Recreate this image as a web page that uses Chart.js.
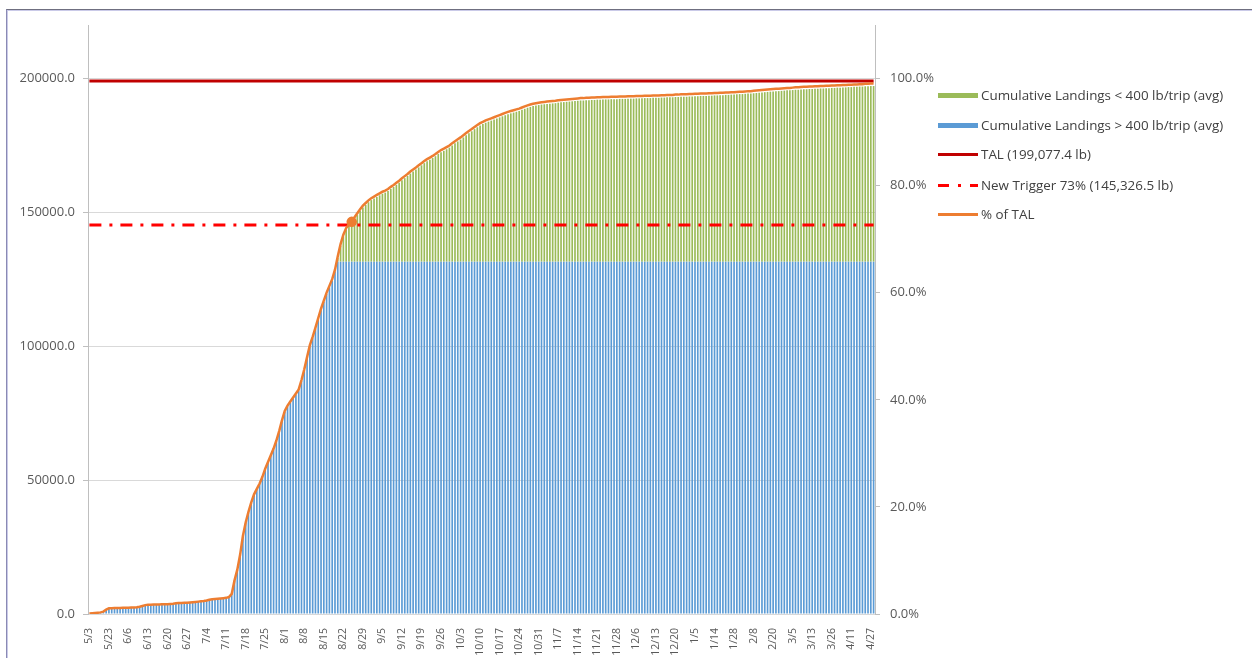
<!DOCTYPE html>
<html>
<head>
<meta charset="utf-8">
<title>Cumulative Landings vs TAL</title>
<script src="https://cdn.jsdelivr.net/npm/chart.js@4"></script>
<style>
  body { margin: 0; background: #fff; }
  #wrap { position: relative; width: 1252px; height: 658px; overflow: hidden; background: #fff; }
  #frame {
    position: absolute; left: 6px; top: 9px; width: 1260px; height: 700px;
    border-top: 1px solid #6f6f80; border-left: 1px solid #8a8ab4;
    box-shadow: inset 1px 1px 0 #cacae8; pointer-events: none;
  }
  #chart { position: absolute; left: 0; top: 0; }
  .legend { position: absolute; left: 938px; top: 0; font-family: "Open Sans", sans-serif; font-size: 13.4px; color: #404040; }
  .item { position: absolute; left: 0; height: 18px; white-space: nowrap; }
  .item .txt { position: absolute; left: 43px; top: 0; line-height: 18px; }
  .sw { position: absolute; left: 0; width: 40px; }
</style>
</head>
<body>
<div id="wrap">
  <canvas id="chart" width="1252" height="658"></canvas>
  <div id="frame"></div>
  <div class="legend">
    <div class="item" style="top:86px"><span class="sw" style="top:7px;height:5px;background:#9bbb59"></span><span class="txt">Cumulative Landings &lt; 400 lb/trip (avg)</span></div>
    <div class="item" style="top:116px"><span class="sw" style="top:7px;height:5px;background:#5b9bd5"></span><span class="txt">Cumulative Landings &gt; 400 lb/trip (avg)</span></div>
    <div class="item" style="top:145px"><span class="sw" style="top:8px;height:3px;background:#c00000"></span><span class="txt">TAL (199,077.4 lb)</span></div>
    <div class="item" style="top:176px">
      <span class="sw" style="top:8px;height:3px;width:11px;background:#ff0000"></span>
      <span class="sw" style="top:8px;height:3px;width:3px;left:20px;background:#ff0000"></span>
      <span class="sw" style="top:8px;height:3px;width:8px;left:32px;background:#ff0000"></span>
      <span class="txt">New Trigger 73% (145,326.5 lb)</span>
    </div>
    <div class="item" style="top:205px"><span class="sw" style="top:8px;height:3px;background:#ed7d31"></span><span class="txt">% of TAL</span></div>
  </div>
</div>

<script>
// ─────────────────────────────────────────────
// DATA (lb, one bar per landing date, 7 bars per row)
// ─────────────────────────────────────────────
const TAL = 199077.4;
const TRIGGER = 145326.5;

// date shown under the first bar of every row of 7
const tickLabels = [
  '5/3', '5/23', '6/6', '6/13', '6/20', '6/27', '7/4', '7/11', '7/18', '7/25',
  '8/1', '8/8', '8/15', '8/22', '8/29', '9/5', '9/12', '9/19', '9/26', '10/3',
  '10/10', '10/17', '10/24', '10/31', '11/7', '11/14', '11/21', '11/28', '12/6', '12/13',
  '12/20', '1/5', '1/14', '1/28', '2/8', '2/20', '3/5', '3/13', '3/26', '4/11', '4/27'
];

const leftTicks = [0, 50000, 100000, 150000, 200000];
const rightTicks = [0, 20, 40, 60, 80, 100];

// cumulative landings from trips averaging > 400 lb
const over400 = [
  200, 300, 400, 500, 600, 900, 1600,                          // 5/3
  2100, 2100, 2200, 2200, 2200, 2300, 2300,                    // 5/23
  2300, 2400, 2400, 2500, 2700, 3000, 3300,                    // 6/6
  3400, 3400, 3500, 3500, 3500, 3600, 3600,                    // 6/13
  3600, 3700, 3800, 4000, 4100, 4100, 4200,                    // 6/20
  4200, 4300, 4400, 4500, 4600, 4700, 4800,                    // 6/27
  5000, 5300, 5500, 5600, 5700, 5800, 5900,                    // 7/4
  6000, 6300, 7500, 12500, 16500, 22000, 29000,                // 7/11
  34000, 38000, 41500, 44500, 46500, 48500, 51000,             // 7/18
  54000, 56500, 59000, 61500, 64500, 68000, 72000,             // 7/25
  75500, 77500, 79000, 80500, 82000, 83500, 87000,             // 8/1
  91000, 95500, 100000, 103000, 106500, 110000, 113500,        // 8/8
  116500, 119500, 122000, 124500, 128000, 131600, 131600,      // 8/15
  131600, 131600, 131600, 131600, 131600, 131600, 131600,      // 8/22
  131600, 131600, 131600, 131600, 131600, 131600, 131600,      // 8/29
  131600, 131600, 131600, 131600, 131600, 131600, 131600,      // 9/5
  131600, 131600, 131600, 131600, 131600, 131600, 131600,      // 9/12
  131600, 131600, 131600, 131600, 131600, 131600, 131600,      // 9/19
  131600, 131600, 131600, 131600, 131600, 131600, 131600,      // 9/26
  131600, 131600, 131600, 131600, 131600, 131600, 131600,      // 10/3
  131600, 131600, 131600, 131600, 131600, 131600, 131600,      // 10/10
  131600, 131600, 131600, 131600, 131600, 131600, 131600,      // 10/17
  131600, 131600, 131600, 131600, 131600, 131600, 131600,      // 10/24
  131600, 131600, 131600, 131600, 131600, 131600, 131600,      // 10/31
  131600, 131600, 131600, 131600, 131600, 131600, 131600,      // 11/7
  131600, 131600, 131600, 131600, 131600, 131600, 131600,      // 11/14
  131600, 131600, 131600, 131600, 131600, 131600, 131600,      // 11/21
  131600, 131600, 131600, 131600, 131600, 131600, 131600,      // 11/28
  131600, 131600, 131600, 131600, 131600, 131600, 131600,      // 12/6
  131600, 131600, 131600, 131600, 131600, 131600, 131600,      // 12/13
  131600, 131600, 131600, 131600, 131600, 131600, 131600,      // 12/20
  131600, 131600, 131600, 131600, 131600, 131600, 131600,      // 1/5
  131600, 131600, 131600, 131600, 131600, 131600, 131600,      // 1/14
  131600, 131600, 131600, 131600, 131600, 131600, 131600,      // 1/28
  131600, 131600, 131600, 131600, 131600, 131600, 131600,      // 2/8
  131600, 131600, 131600, 131600, 131600, 131600, 131600,      // 2/20
  131600, 131600, 131600, 131600, 131600, 131600, 131600,      // 3/5
  131600, 131600, 131600, 131600, 131600, 131600, 131600,      // 3/13
  131600, 131600, 131600, 131600, 131600, 131600, 131600,      // 3/26
  131600, 131600, 131600, 131600, 131600, 131600, 131600,      // 4/11
  131600, 131600                                               // 4/27
];

// cumulative landings from trips averaging < 400 lb
const under400 = [
  0, 0, 0, 0, 0, 0, 0,                                         // 5/3
  0, 0, 0, 0, 0, 0, 0,                                         // 5/23
  0, 0, 0, 0, 0, 0, 0,                                         // 6/6
  0, 0, 0, 0, 0, 0, 0,                                         // 6/13
  0, 0, 0, 0, 0, 0, 0,                                         // 6/20
  0, 0, 0, 0, 0, 0, 0,                                         // 6/27
  0, 0, 0, 0, 0, 0, 0,                                         // 7/4
  0, 0, 0, 0, 0, 0, 0,                                         // 7/11
  0, 0, 0, 0, 0, 0, 0,                                         // 7/18
  0, 0, 0, 0, 0, 0, 0,                                         // 7/25
  0, 0, 0, 0, 0, 0, 0,                                         // 8/1
  0, 0, 0, 0, 0, 0, 0,                                         // 8/8
  0, 0, 0, 0, 0, 1400, 5900,                                   // 8/15
  9400, 11900, 13200, 14200, 15900, 17400, 18900,              // 8/22
  20200, 21200, 22200, 23000, 23600, 24200, 24800,             // 8/29
  25400, 25800, 26400, 27200, 27900, 28700, 29500,             // 9/5
  30400, 31200, 32000, 32900, 33700, 34400, 35200,             // 9/12
  36000, 36800, 37500, 38100, 38700, 39400, 40200,             // 9/19
  40900, 41400, 42000, 42600, 43400, 44200, 44900,             // 9/26
  45600, 46400, 47200, 48000, 48700, 49500, 50200,             // 10/3
  50900, 51400, 51900, 52300, 52700, 53100, 53500,             // 10/10
  53900, 54300, 54700, 55100, 55400, 55700, 56000,             // 10/17
  56300, 56700, 57100, 57500, 57800, 58100, 58300,             // 10/24
  58500, 58700, 58800, 58900, 59000, 59100, 59200,             // 10/31
  59400, 59500, 59600, 59700, 59800, 59900, 60000,             // 11/7
  60100, 60200, 60200, 60300, 60300, 60400, 60400,             // 11/14
  60500, 60500, 60600, 60600, 60600, 60700, 60700,             // 11/21
  60700, 60800, 60800, 60800, 60900, 60900, 60900,             // 11/28
  61000, 61000, 61000, 61100, 61100, 61100, 61200,             // 12/6
  61200, 61200, 61300, 61300, 61400, 61400, 61400,             // 12/13
  61500, 61500, 61600, 61600, 61600, 61700, 61700,             // 12/20
  61800, 61800, 61900, 61900, 61900, 62000, 62000,             // 1/5
  62100, 62100, 62200, 62200, 62300, 62300, 62400,             // 1/14
  62400, 62500, 62600, 62600, 62700, 62800, 62800,             // 1/28
  62900, 63000, 63100, 63200, 63300, 63400, 63500,             // 2/8
  63600, 63700, 63700, 63800, 63900, 64000, 64000,             // 2/20
  64100, 64200, 64200, 64300, 64400, 64400, 64500,             // 3/5
  64500, 64600, 64600, 64700, 64700, 64800, 64800,             // 3/13
  64900, 64900, 65000, 65000, 65100, 65100, 65200,             // 3/26
  65200, 65300, 65300, 65400, 65400, 65500, 65500,             // 4/11
  65600, 65600                                                 // 4/27
];

// bar where the running total passes the trigger (marked on the % line)
const triggerHitIndex = 94;

// ─────────────────────────────────────────────
// DERIVED SERIES
// ─────────────────────────────────────────────
const categories = under400.map((_, i) => (i % 7 === 0 ? tickLabels[i / 7] : ''));
const pctOfTal = under400.map((v, i) => (v + over400[i]) / TAL * 100);
const talLine = categories.map(() => TAL);
const triggerLine = categories.map(() => TRIGGER);

// ─────────────────────────────────────────────
// CHART
// ─────────────────────────────────────────────
const axisText = '#595959';
const axisLine = '#bfbfbf';

new Chart(document.getElementById('chart'), {
  type: 'bar',
  data: {
    labels: categories,
    datasets: [
      {
        label: 'Cumulative Landings > 400 lb/trip (avg)',
        data: over400,
        backgroundColor: '#5b9bd5',
        stack: 'landings',
        barPercentage: 0.6,
        categoryPercentage: 1,
        order: 5
      },
      {
        label: 'Cumulative Landings < 400 lb/trip (avg)',
        data: under400,
        backgroundColor: '#9bbb59',
        stack: 'landings',
        barPercentage: 0.6,
        categoryPercentage: 1,
        order: 5
      },
      {
        type: 'line',
        label: 'TAL (199,077.4 lb)',
        data: talLine,
        borderColor: '#c00000',
        borderWidth: 3,
        pointRadius: 0,
        stack: 'tal',
        order: 2
      },
      {
        type: 'line',
        label: 'New Trigger 73% (145,326.5 lb)',
        data: triggerLine,
        borderColor: '#ff0000',
        borderWidth: 3,
        borderDash: [12, 8, 3, 8],
        pointRadius: 0,
        stack: 'trigger',
        order: 3
      },
      {
        type: 'line',
        label: '% of TAL',
        data: pctOfTal,
        yAxisID: 'y1',
        borderColor: '#ed7d31',
        borderWidth: 2.5,
        pointRadius: ctx => (ctx.dataIndex === triggerHitIndex ? 4 : 0),
        pointBackgroundColor: '#ed7d31',
        pointBorderColor: '#ed7d31',
        order: 1
      }
    ]
  },
  options: {
    responsive: false,
    animation: false,
    layout: { padding: { left: 0, right: 317, top: 25, bottom: 0 } },
    plugins: {
      legend: { display: false },
      tooltip: { enabled: false }
    },
    scales: {
      x: {
        stacked: true,
        grid: { display: false },
        border: { color: '#d9d9d9' },
        ticks: {
          autoSkip: false,
          minRotation: 90,
          maxRotation: 90,
          padding: 6,
          color: axisText,
          font: { family: 'Open Sans', size: 10.5 }
        },
        afterFit: s => { s.height = 44; }
      },
      y: {
        stacked: true,
        position: 'left',
        min: 0,
        max: 220000,
        bounds: 'data',
        grid: { color: '#d9d9d9', tickLength: 5, tickColor: axisLine },
        border: { color: axisLine },
        ticks: {
          padding: 8,
          color: axisText,
          font: { family: 'Open Sans', size: 13 },
          callback: v => v.toFixed(1)
        },
        afterBuildTicks: s => { s.ticks = leftTicks.map(v => ({ value: v })); },
        afterFit: s => { s.width = 88; }
      },
      y1: {
        position: 'right',
        min: 0,
        max: 110,
        bounds: 'data',
        grid: { drawOnChartArea: false, tickLength: 5, color: axisLine },
        border: { color: axisLine },
        ticks: {
          padding: 10,
          color: axisText,
          font: { family: 'Open Sans', size: 13 },
          callback: v => v.toFixed(1) + '%'
        },
        afterBuildTicks: s => { s.ticks = rightTicks.map(v => ({ value: v })); },
        afterFit: s => { s.width = 60; }
      }
    }
  }
});
</script>
</body>
</html>
